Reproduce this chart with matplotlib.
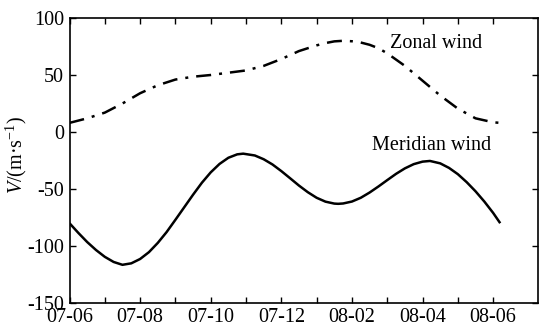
import matplotlib
matplotlib.use("Agg")
import matplotlib.pyplot as plt

plt.rcParams["font.family"] = ["Liberation Serif", "DejaVu Serif"]
plt.rcParams["mathtext.fontset"] = "custom"
plt.rcParams["mathtext.rm"] = "Liberation Serif"
plt.rcParams["mathtext.it"] = "Liberation Serif:italic"
plt.rcParams["axes.unicode_minus"] = False

# tick positions (one tick per day step) and the labels on every other tick
tick_pos = list(range(13))
tick_labels = ["07-06", "", "07-08", "", "07-10", "", "07-12", "",
               "08-02", "", "08-04", "", "08-06"]

# meridian wind (solid)
mer_x = [0.0, 0.25, 0.5, 0.75, 1.0, 1.25, 1.5, 1.75, 2.0, 2.25, 2.5, 2.75,
         3.0, 3.25, 3.5, 3.75, 4.0, 4.25, 4.5, 4.75, 4.92, 5.25, 5.5, 5.75,
         6.0, 6.25, 6.5, 6.75, 7.0, 7.25, 7.5, 7.61, 7.75, 8.0, 8.25, 8.5,
         8.75, 9.0, 9.25, 9.5, 9.75, 10.0, 10.21, 10.5, 10.75, 11.0, 11.25,
         11.5, 11.75, 12.0, 12.2]
mer_v = [-80, -88.5, -96.5, -103.5, -109.5, -114, -116.5, -115.2, -111.4,
         -105.4, -97.3, -87.8, -77, -66, -55, -44.5, -35.4, -28, -22.6,
         -19.6, -19, -20.6, -23.9, -28.5, -34.3, -40.6, -47, -52.8, -57.7,
         -61.1, -62.8, -63, -62.7, -61, -57.7, -53.1, -47.8, -42.2, -36.7,
         -31.9, -28.2, -26, -25.4, -27.5, -31.5, -37, -44, -52, -61, -71, -80]

# zonal wind (dash-dot)
zon_x = [0.0, 0.5, 1.0, 1.5, 2.0, 2.5, 3.0, 3.5, 4.0, 4.5, 5.0, 5.5, 6.0,
         6.5, 7.0, 7.25, 7.5, 7.75, 8.0, 8.25, 8.5, 8.75, 9.0, 9.5, 10.0,
         10.5, 11.0, 11.5, 12.0, 12.2]
zon_v = [8, 12, 17, 25, 34, 41, 46, 48.5, 50, 52, 54, 58, 64, 71, 76, 78,
         79.5, 80, 79.6, 78.5, 76.5, 73.5, 69, 58, 45, 32, 20.5, 12, 8.5, 8]

fig = plt.figure(figsize=(5.39, 3.26), dpi=100)
ax = fig.add_axes([69.5 / 539, 1 - 303 / 326, (538 - 69.5) / 539, (303 - 18) / 326])

ax.plot(mer_x, mer_v, color="black", lw=1.8, solid_capstyle="butt")
ax.plot(zon_x, zon_v, color="black", lw=1.8,
        linestyle=(0, (6, 3.2, 1.2, 3.2)))

ax.text(9.08, 78, "Zonal wind", fontsize=14.5, va="center", ha="left")
ax.text(8.56, -11.5, "Meridian wind", fontsize=14.5, va="center", ha="left")

ax.set_xlim(0, 13.27)
ax.set_ylim(-150, 100)
ax.set_xticks(tick_pos)
ax.set_xticklabels(tick_labels)
ax.set_yticks([-150, -100, -50, 0, 50, 100])
ax.tick_params(direction="in", length=4, width=1, top=True, right=True,
               labelsize=14.5)
ax.tick_params(axis="x", pad=3.5)
ax.tick_params(axis="y", pad=4)
for s in ax.spines.values():
    s.set_linewidth(1.2)

ax.set_ylabel(r"$V$/(m·s$^{-1}$)", fontsize=14.5)
ax.yaxis.set_label_coords(-0.087, 0.52)

fig.savefig("out.png", dpi=100)
